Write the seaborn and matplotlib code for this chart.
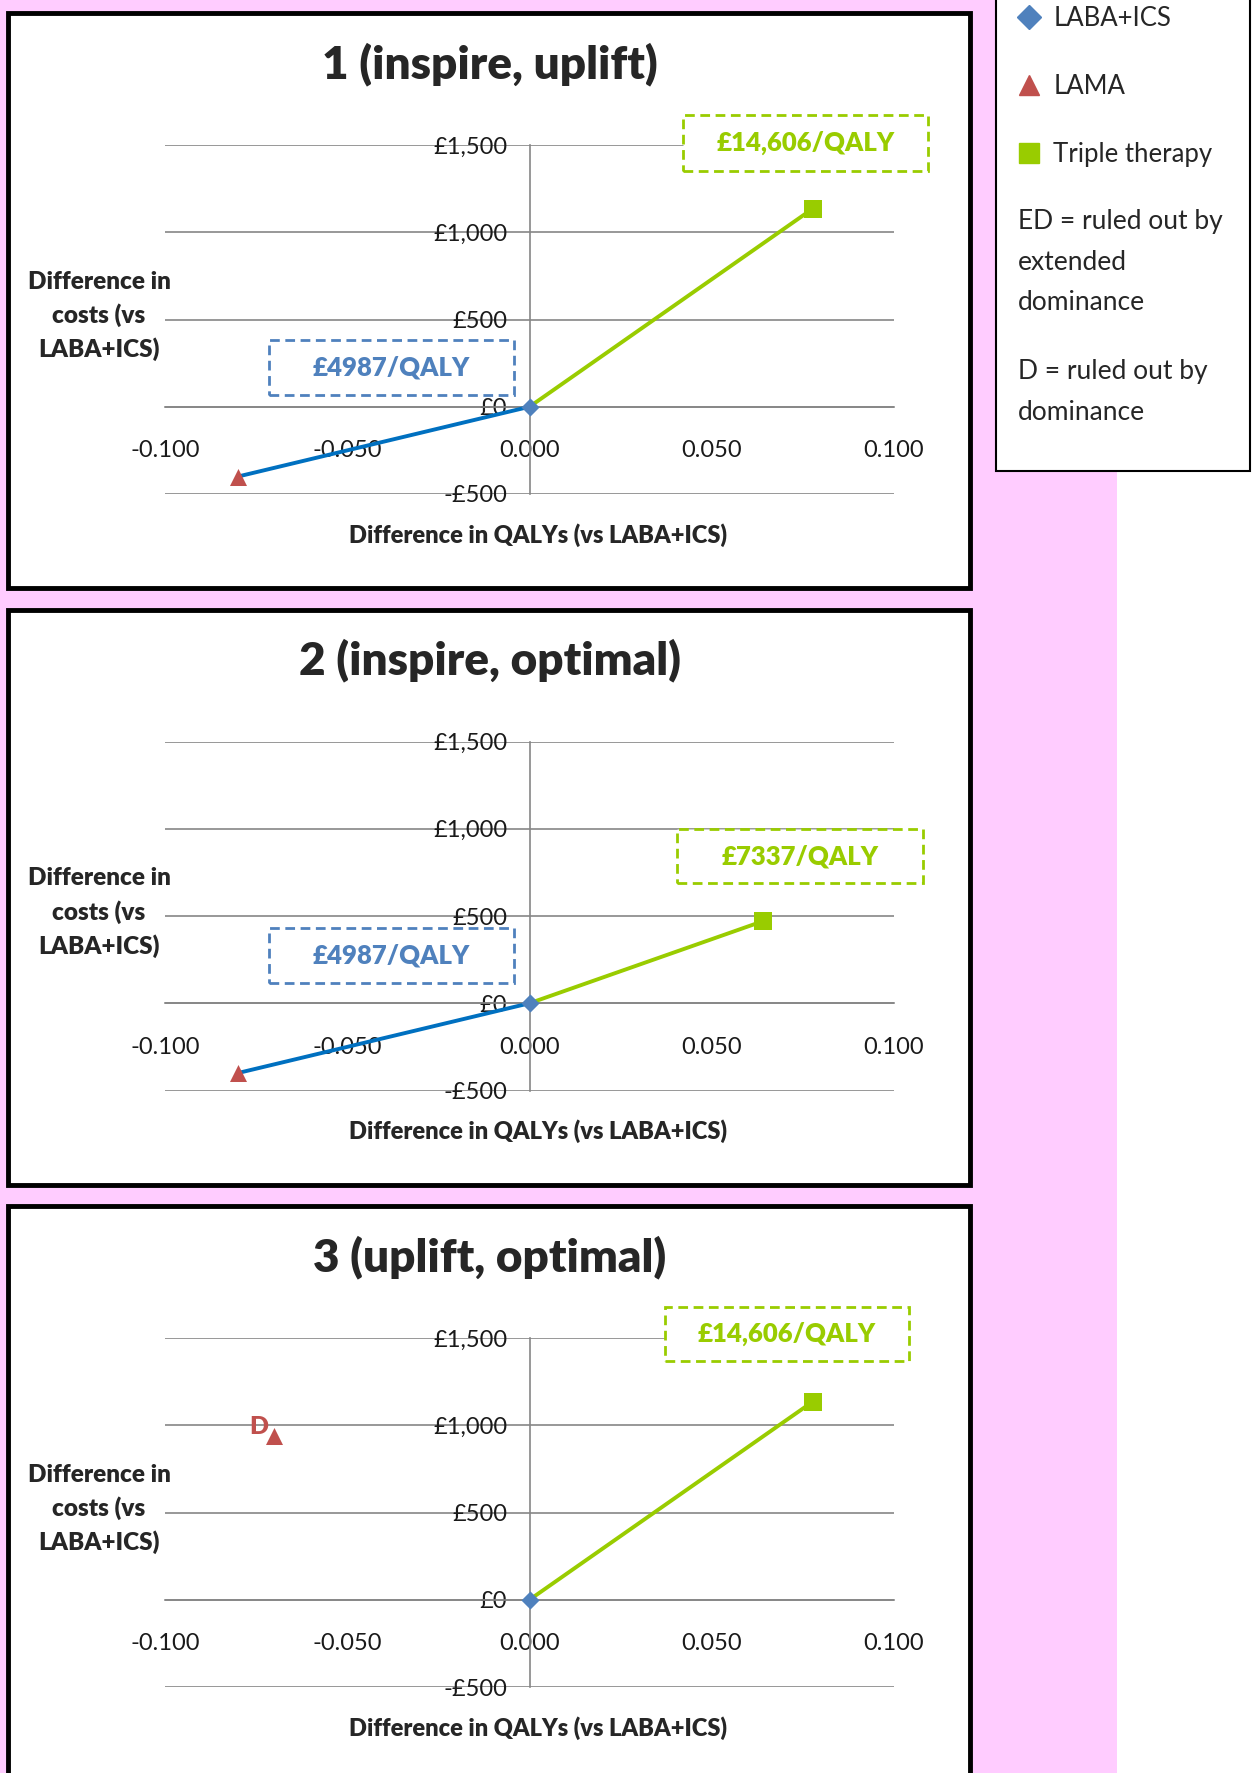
import matplotlib
matplotlib.use("Agg")
import matplotlib.pyplot as plt
from matplotlib.patches import Rectangle
from matplotlib.lines import Line2D
import seaborn as sns

# Difference vs LABA+ICS, one entry per panel
titles = ["1 (inspire, uplift)", "2 (inspire, optimal)", "3 (uplift, optimal)"]
laba_qaly = [0.0, 0.0, 0.0]
laba_cost = [0, 0, 0]
lama_qaly = [-0.080, -0.080, -0.070]
lama_cost = [-400, -400, 940]
triple_qaly = [0.0777, 0.0640, 0.0777]
triple_cost = [1135, 470, 1135]
lama_on_frontier = [True, True, False]
icer_lama = ["£4987/QALY", "£4987/QALY", None]
icer_triple = ["£14,606/QALY", "£7337/QALY", "£14,606/QALY"]

qaly_ticks = [-0.1, -0.05, 0.0, 0.05, 0.1]
qaly_labels = ["-0.100", "-0.050", "0.000", "0.050", "0.100"]
cost_ticks = [-500, 0, 500, 1000, 1500]
cost_labels = ["-£500", "£0", "£500", "£1,000", "£1,500"]

# colours
BLUE_MK = "#4F81BD"
BLUE_LN = "#0070C0"
RED = "#C0504D"
GREEN = "#99CC00"
GRID = "#868686"
PINK = "#FFCCFF"

sns.set_style("white")
plt.rcParams["font.family"] = ["Lato", "DejaVu Sans"]

W, H = 1254, 1773
fig = plt.figure(figsize=(W / 100, H / 100), dpi=100)
fig.patch.set_facecolor(PINK)


def fx(x):
    return x / W


def fy(y):
    return 1 - y / H


# white strip on the right of the page
fig.add_artist(Rectangle((fx(1117), 0), 1, 1, transform=fig.transFigure,
                         fc="white", ec="none", zorder=-3))

# annotation box corners in data coords (x0, x1, y0, y1) per panel
lama_boxes = [(-0.0715, -0.0043, 69, 384), (-0.0715, -0.0043, 115, 430), None]
triple_boxes = [(0.0421, 0.1093, 1352, 1672), (0.0405, 0.1080, 687, 997),
                (0.0372, 0.1041, 1369, 1678)]

for k in range(3):
    dy = 596.5 * k

    # panel frame
    fig.add_artist(Rectangle((fx(8), fy(588 + dy)), fx(962), 575 / H,
                             transform=fig.transFigure, fc="white", ec="black",
                             lw=3.5, zorder=-2))

    ax = fig.add_axes([fx(165), fy(494 + dy), fx(729), 349 / H])
    ax.patch.set_alpha(0)
    ax.set_xlim(-0.1, 0.1)
    ax.set_ylim(-500, 1500)

    for s in ["top", "right"]:
        ax.spines[s].set_visible(False)
    ax.spines["left"].set_position(("data", 0))
    ax.spines["bottom"].set_position(("data", 0))
    for s in ["left", "bottom"]:
        ax.spines[s].set_color(GRID)
        ax.spines[s].set_linewidth(1.2)

    ax.set_xticks(qaly_ticks, qaly_labels)
    ax.set_yticks(cost_ticks, cost_labels)
    ax.tick_params(axis="x", direction="out", length=9, width=1.2, color=GRID,
                   pad=15, labelsize=17, labelcolor="#1a1a1a")
    ax.tick_params(axis="y", length=0, pad=16, labelsize=17, labelcolor="#1a1a1a")
    ax.grid(axis="y", color=GRID, lw=1.2)
    ax.set_axisbelow(True)

    # frontier lines
    if lama_on_frontier[k]:
        sns.lineplot(x=[lama_qaly[k], laba_qaly[k]], y=[lama_cost[k], laba_cost[k]],
                     sort=False, color=BLUE_LN, lw=2.8, ax=ax, zorder=3)
    sns.lineplot(x=[laba_qaly[k], triple_qaly[k]], y=[laba_cost[k], triple_cost[k]],
                 sort=False, color=GREEN, lw=2.8, ax=ax, zorder=3)

    # points
    sns.scatterplot(x=[laba_qaly[k]], y=[laba_cost[k]], marker="D", s=85,
                    color=BLUE_MK, linewidth=0, ax=ax, zorder=4, clip_on=False)
    sns.scatterplot(x=[lama_qaly[k]], y=[lama_cost[k]], marker="^", s=150,
                    color=RED, linewidth=0, ax=ax, zorder=4, clip_on=False)
    sns.scatterplot(x=[triple_qaly[k]], y=[triple_cost[k]], marker="s", s=170,
                    color=GREEN, linewidth=0, ax=ax, zorder=4, clip_on=False)

    if not lama_on_frontier[k]:
        ax.annotate("D", (lama_qaly[k], lama_cost[k]), xytext=(-11, 6),
                    textcoords="offset points", ha="center", va="center",
                    color=RED, fontsize=18, fontweight="heavy")

    # ICER boxes
    for box, label, col in [(lama_boxes[k], icer_lama[k], BLUE_MK),
                            (triple_boxes[k], icer_triple[k], GREEN)]:
        if box is None:
            continue
        x0, x1, y0, y1 = box
        ax.add_patch(Rectangle((x0, y0), x1 - x0, y1 - y0, fc="white", ec=col,
                               lw=2, ls=(0, (3.5, 2)), clip_on=False, zorder=5))
        ax.text((x0 + x1) / 2, (y0 + y1) / 2, label, ha="center", va="center",
                color=col, fontsize=18.5, fontweight="heavy", zorder=6)

    # titles and axis titles
    fig.text(fx(490), fy(64 + dy), titles[k], ha="center", va="center",
             fontsize=33, fontweight="heavy")
    fig.text(fx(99), fy(316 + dy), "Difference in\ncosts (vs\nLABA+ICS)",
             ha="center", va="center", fontsize=17.5, fontweight="heavy",
             linespacing=1.55)
    fig.text(fx(538), fy(535 + dy), "Difference in QALYs (vs LABA+ICS)",
             ha="center", va="center", fontsize=17, fontweight="heavy")

# legend panel
fig.add_artist(Rectangle((fx(996), fy(471)), fx(254), 0.5, transform=fig.transFigure,
                         fc="white", ec="black", lw=1.5, zorder=-1))
handles = [
    Line2D([], [], marker="D", ls="none", color=BLUE_MK, ms=12),
    Line2D([], [], marker="^", ls="none", color=RED, ms=14),
    Line2D([], [], marker="s", ls="none", color=GREEN, ms=14),
]
fig.legend(handles, ["LABA+ICS", "LAMA", "Triple therapy"], loc="upper left",
           bbox_to_anchor=(fx(1016), fy(6)), frameon=False, fontsize=18.5,
           labelspacing=1.68, handlelength=1.0, handletextpad=0.45,
           borderpad=0, borderaxespad=0)
fig.text(fx(1018), fy(262), "ED = ruled out by\nextended\ndominance",
         ha="left", va="center", fontsize=19, linespacing=1.78)
fig.text(fx(1018), fy(392), "D = ruled out by\ndominance",
         ha="left", va="center", fontsize=19, linespacing=1.78)

fig.savefig("out.png", dpi=100, facecolor=fig.get_facecolor())
